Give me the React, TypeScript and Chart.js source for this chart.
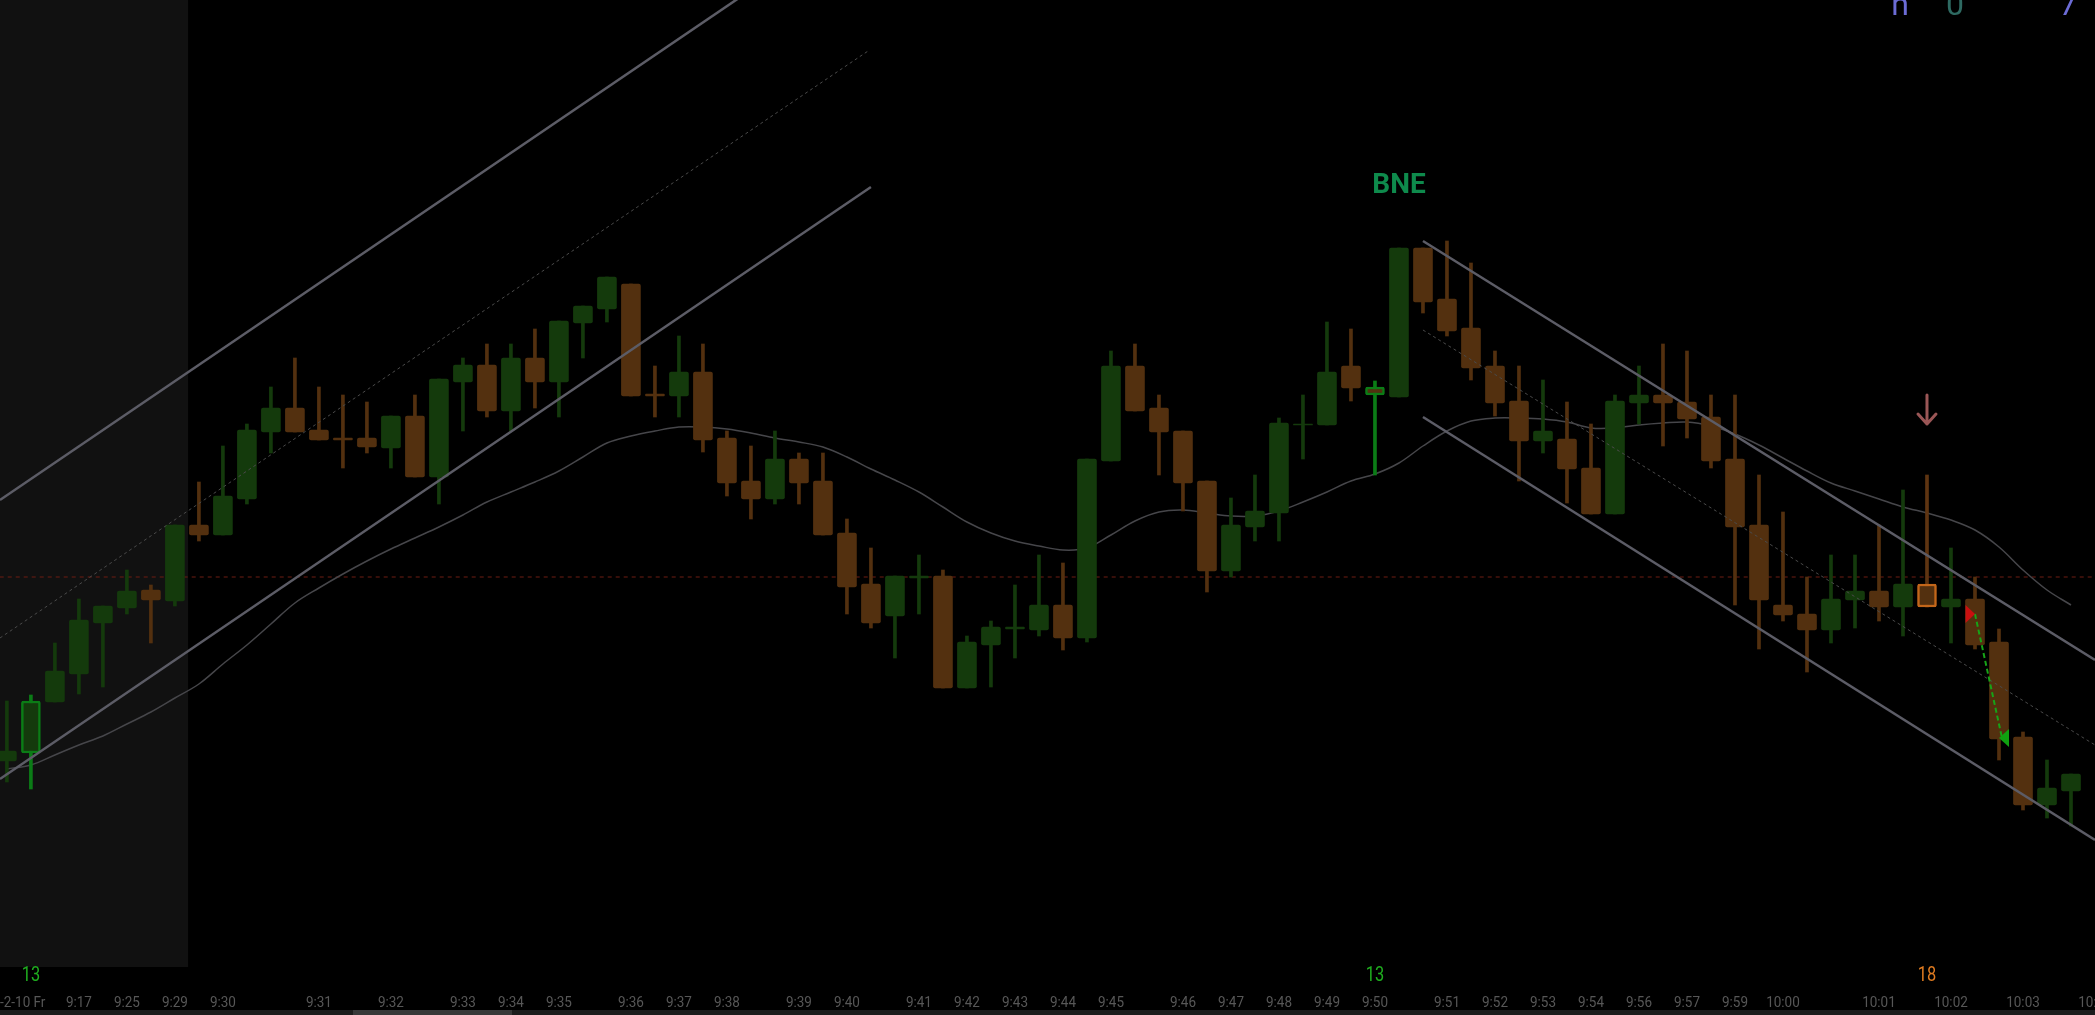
import React, { useEffect, useRef } from "react";
import { Chart, registerables } from "chart.js";

Chart.register(...registerables);

const W = 2095;
const H = 1015;

// OHLC per bar (price units)
const candleOpen = [254, 262, 313, 341, 392, 407, 425, 414, 490, 480, 516, 583, 607, 585, 577, 577, 567, 599, 538, 633, 650, 604, 657, 633, 692, 706, 731, 621, 619, 643, 577, 534, 516, 556, 534, 482, 431, 399, 437, 439, 327, 370, 386, 385, 410, 377, 554, 649, 607, 584, 534, 444, 488, 502, 590, 590, 649, 628, 618, 767, 716, 687, 649, 614, 574, 576, 547, 501, 612, 620, 613, 598, 556, 490, 410, 401, 385, 415, 424, 408, 431, 408, 416, 373, 278, 210, 224];
const candleHigh = [314, 320, 372, 416, 409, 445, 430, 490, 533, 569, 591, 628, 657, 628, 620, 613, 599, 620, 636, 657, 671, 671, 686, 694, 709, 738, 731, 649, 679, 671, 584, 569, 584, 562, 562, 496, 467, 439, 460, 445, 379, 394, 430, 460, 452, 556, 664, 671, 620, 584, 534, 517, 540, 597, 620, 693, 686, 634, 767, 767, 774, 752, 664, 649, 635, 613, 591, 620, 649, 671, 664, 620, 620, 540, 503, 438, 460, 460, 490, 525, 540, 467, 438, 386, 283, 255, 241];
const candleLow = [233, 226, 313, 321, 328, 401, 372, 409, 474, 480, 511, 562, 583, 575, 547, 562, 547, 538, 511, 584, 598, 584, 607, 598, 657, 693, 619, 598, 598, 563, 519, 496, 511, 511, 480, 401, 387, 357, 401, 327, 327, 328, 357, 379, 365, 373, 554, 604, 540, 504, 423, 438, 474, 474, 556, 590, 614, 540, 618, 702, 679, 635, 599, 534, 562, 512, 501, 501, 591, 569, 577, 547, 410, 366, 394, 343, 372, 387, 394, 379, 408, 372, 366, 255, 205, 197, 189];
const candleClose = [264, 314, 344, 395, 409, 424, 415, 490, 480, 519, 585, 607, 583, 575, 575, 568, 599, 538, 636, 650, 604, 657, 633, 694, 709, 738, 619, 619, 643, 575, 532, 516, 556, 532, 480, 428, 392, 439, 439, 327, 373, 388, 388, 410, 377, 556, 649, 604, 583, 532, 444, 490, 504, 592, 591, 643, 627, 620, 767, 713, 684, 647, 612, 574, 584, 546, 501, 614, 620, 612, 596, 554, 488, 415, 400, 385, 416, 424, 408, 431, 408, 416, 370, 276, 210, 227, 241];

// moving average per bar
const movingAverage = [246, 250, 260, 270, 279, 291, 303, 317, 331, 351, 370, 391, 412, 427, 441, 454, 466, 477, 488, 500, 513, 523, 533, 544, 558, 572, 579, 584, 588, 588, 586, 582, 577, 573, 568, 558, 546, 535, 523, 508, 493, 482, 474, 469, 465, 467, 480, 494, 503, 505, 502, 499, 499, 504, 513, 523, 534, 541, 552, 569, 584, 594, 597, 597, 596, 593, 587, 587, 590, 592, 593, 589, 581, 570, 557, 544, 532, 524, 516, 508, 502, 495, 485, 468, 445, 425, 410];

// highlighted bars and their count labels
const markedCandles = [1, 57, 80];
const markedColors = ["#0b7c16", "#0b7c16", "#c2661a"];
const markedWickColors = ["#0b7c16", "#0b7c16", "#5e3411"];
const countLabels = ["13", "13", "18"];
const countColors = ["#1fae1f", "#1fae1f", "#e07b20"];

// time axis
const timeTickIndex = [3, 5, 7, 9, 13, 16, 19, 21, 23, 26, 28, 30, 33, 35, 38, 40, 42, 44, 46, 49, 51, 53, 55, 57, 60, 62, 64, 66, 68, 70, 72, 74, 78, 81, 84, 87];
const timeTickLabels = ["9:17", "9:25", "9:29", "9:30", "9:31", "9:32", "9:33", "9:34", "9:35", "9:36", "9:37", "9:38", "9:39", "9:40", "9:41", "9:42", "9:43", "9:44", "9:45", "9:46", "9:47", "9:48", "9:49", "9:50", "9:51", "9:52", "9:53", "9:54", "9:56", "9:57", "9:59", "10:00", "10:01", "10:02", "10:03", "10:04"];
const dateLabel = "-2-10 Fr";

// horizontal level
const levelPrice = 438;

// rising channel (bar index, price)
const upChannelX = [-0.29, 30.5];
const upChannelUpper = [515, 1017];
const upChannelMidX = [-0.29, 35.88];
const upChannelMid = [377, 964];
const upChannelLowX = [-0.29, 36.0];
const upChannelLower = [236, 828];

// falling channel
const downChannelX = [59.0, 87.0];
const downChannelUpper = [774, 355];
const downChannelMid = [685, 270];
const downChannelLower = [598, 175];

const GREEN = "#143a0c";
const BROWN = "#53300f";
const CHANNEL = "#5c5c66";

const pts = (xs: number[], ys: number[]) => xs.map((x, i) => ({ x, y: ys[i] }));

function txt(ctx: CanvasRenderingContext2D, s: string, x: number, y: number, font: string, color: string, sx = 1, align: CanvasTextAlign = "center") {
  ctx.save();
  ctx.translate(x, y);
  ctx.scale(sx, 1);
  ctx.font = font;
  ctx.fillStyle = color;
  ctx.textAlign = align;
  ctx.textBaseline = "middle";
  ctx.fillText(s, 0, 0);
  ctx.restore();
}

const decor = {
  id: "decor",
  beforeDraw(chart: any) {
    const { ctx } = chart;
    const x = chart.scales.x;
    ctx.save();
    ctx.fillStyle = "#000000";
    ctx.fillRect(0, 0, W, H);
    ctx.fillStyle = "#111111";
    ctx.fillRect(0, 0, x.getPixelForValue(7.55), 967);
    ctx.restore();
  },
  afterDatasetsDraw(chart: any) {
    const { ctx } = chart;
    const x = chart.scales.x;
    const y = chart.scales.y;
    // BNE label
    txt(ctx, "BNE", x.getPixelForValue(58), y.getPixelForValue(829), "bold 28px Roboto", "#0e8a4c");
    // down arrow
    const ax = x.getPixelForValue(80);
    const aTop = y.getPixelForValue(620);
    const aBot = y.getPixelForValue(591);
    ctx.save();
    ctx.strokeStyle = "#9a5656";
    ctx.lineWidth = 3;
    ctx.lineCap = "round";
    ctx.lineJoin = "round";
    ctx.beginPath();
    ctx.moveTo(ax, aTop);
    ctx.lineTo(ax, aBot);
    ctx.moveTo(ax - 9, aBot - 10);
    ctx.lineTo(ax, aBot);
    ctx.lineTo(ax + 9, aBot - 10);
    ctx.stroke();
    ctx.restore();
    // signal triangles and connector
    const rx = x.getPixelForValue(82);
    const ry = y.getPixelForValue(401);
    const gx = x.getPixelForValue(83);
    const gy = y.getPixelForValue(277);
    ctx.save();
    ctx.strokeStyle = "#17a317";
    ctx.lineWidth = 2;
    ctx.setLineDash([5, 3]);
    ctx.beginPath();
    ctx.moveTo(rx, ry);
    ctx.lineTo(gx + 3, gy);
    ctx.stroke();
    ctx.setLineDash([]);
    ctx.fillStyle = "#c81010";
    ctx.beginPath();
    ctx.moveTo(rx, ry);
    ctx.lineTo(rx - 9.5, ry - 9);
    ctx.lineTo(rx - 9.5, ry + 9);
    ctx.closePath();
    ctx.fill();
    ctx.fillStyle = "#10a010";
    ctx.beginPath();
    ctx.moveTo(gx, gy);
    ctx.lineTo(gx + 10, gy - 9);
    ctx.lineTo(gx + 10, gy + 9);
    ctx.closePath();
    ctx.fill();
    ctx.restore();
  },
  afterDraw(chart: any) {
    const { ctx } = chart;
    const x = chart.scales.x;
    // count labels
    markedCandles.forEach((idx, k) => {
      txt(ctx, countLabels[k], x.getPixelForValue(idx), 976, "20px Roboto", countColors[k], 0.82);
    });
    // time labels
    timeTickIndex.forEach((idx, k) => {
      txt(ctx, timeTickLabels[k], x.getPixelForValue(idx), 1003, "15px Roboto", "#575757", 0.9);
    });
    txt(ctx, dateLabel, 0, 1003, "15px Roboto", "#575757", 0.9, "left");
    // scroll bar
    ctx.save();
    ctx.fillStyle = "#1c1c1c";
    ctx.fillRect(0, 1010, W, 5);
    ctx.fillStyle = "#383838";
    ctx.fillRect(353, 1010, 159, 5);
    // clipped header values
    ctx.font = "32px Roboto";
    ctx.textAlign = "center";
    ctx.textBaseline = "alphabetic";
    ctx.fillStyle = "#6c6cd6";
    ctx.fillText("n", 1900, 15);
    ctx.fillStyle = "#2e6a62";
    ctx.fillText("0", 1955, 15);
    ctx.fillStyle = "#6c6cd6";
    ctx.fillText("7", 2068, 15);
    ctx.restore();
  },
};

export default function App() {
  const ref = useRef<HTMLCanvasElement | null>(null);
  useEffect(() => {
    document.body.style.margin = "0";
    document.body.style.background = "#000";
    const canvas = ref.current;
    if (!canvas) return;
    const n = candleOpen.length;
    const idx = Array.from({ length: n }, (_, i) => i);
    const markK = (i: number) => markedCandles.indexOf(i);
    const bodyFill = idx.map((i) => (candleClose[i] >= candleOpen[i] ? GREEN : BROWN));
    const wickFill = idx.map((i) => (markK(i) >= 0 ? markedWickColors[markK(i)] : bodyFill[i]));
    const bodyBorder = idx.map((i) => (markK(i) >= 0 ? markedColors[markK(i)] : bodyFill[i]));
    const bodyBorderW = idx.map((i) => (markK(i) >= 0 ? 2.5 : 0));

    const line = (data: any[], color: string, width: number, dash: number[] = [], order = 0) =>
      ({ type: "line", data, borderColor: color, borderWidth: width, borderDash: dash, pointRadius: 0, order } as any);

    const chart = new Chart(canvas, {
      type: "bar",
      data: {
        datasets: [
          line(pts(upChannelX, upChannelUpper), CHANNEL, 2.5),
          line(pts(upChannelLowX, upChannelLower), CHANNEL, 2.5),
          line(pts(upChannelMidX, upChannelMid), "#4a4a4a", 1, [3, 3]),
          line(pts(downChannelX, downChannelUpper), CHANNEL, 2.5),
          line(pts(downChannelX, downChannelLower), CHANNEL, 2.5),
          line(pts(downChannelX, downChannelMid), "#4a4a4a", 1, [3, 3]),
          {
            type: "bar",
            data: idx.map((i) => ({ x: i, y: [candleOpen[i], candleClose[i]] })),
            backgroundColor: bodyFill,
            borderColor: bodyBorder,
            borderWidth: bodyBorderW,
            borderSkipped: false,
            borderRadius: 2,
            barThickness: 19,
            grouped: false,
            order: 1,
          } as any,
          {
            type: "bar",
            data: idx.map((i) => ({ x: i, y: [candleLow[i], candleHigh[i]] })),
            backgroundColor: wickFill,
            borderWidth: 0,
            barThickness: 3,
            grouped: false,
            order: 2,
          } as any,
          {
            type: "line",
            data: idx.map((i) => ({ x: i, y: movingAverage[i] })),
            borderColor: "#46464a",
            borderWidth: 1.5,
            pointRadius: 0,
            tension: 0.35,
            order: 3,
          } as any,
          line(pts([-0.3, 87.2], [levelPrice, levelPrice]), "#6e1d12", 1, [4, 4], 4),
        ],
      },
      options: {
        responsive: false,
        animation: false,
        events: [],
        layout: { padding: 0 },
        plugins: { legend: { display: false }, tooltip: { enabled: false } },
        scales: {
          x: { type: "linear", min: -0.2875, max: 87.0, offset: false, display: false, grid: { display: false } },
          y: { type: "linear", min: 0, max: 1015, display: false, grid: { display: false } },
        },
      } as any,
      plugins: [decor],
    });
    return () => chart.destroy();
  }, []);

  return (
    <div style={{ position: "fixed", left: 0, top: 0, width: W, height: H, background: "#000" }}>
      <canvas ref={ref} width={W} height={H} style={{ display: "block", width: W, height: H }} />
    </div>
  );
}
